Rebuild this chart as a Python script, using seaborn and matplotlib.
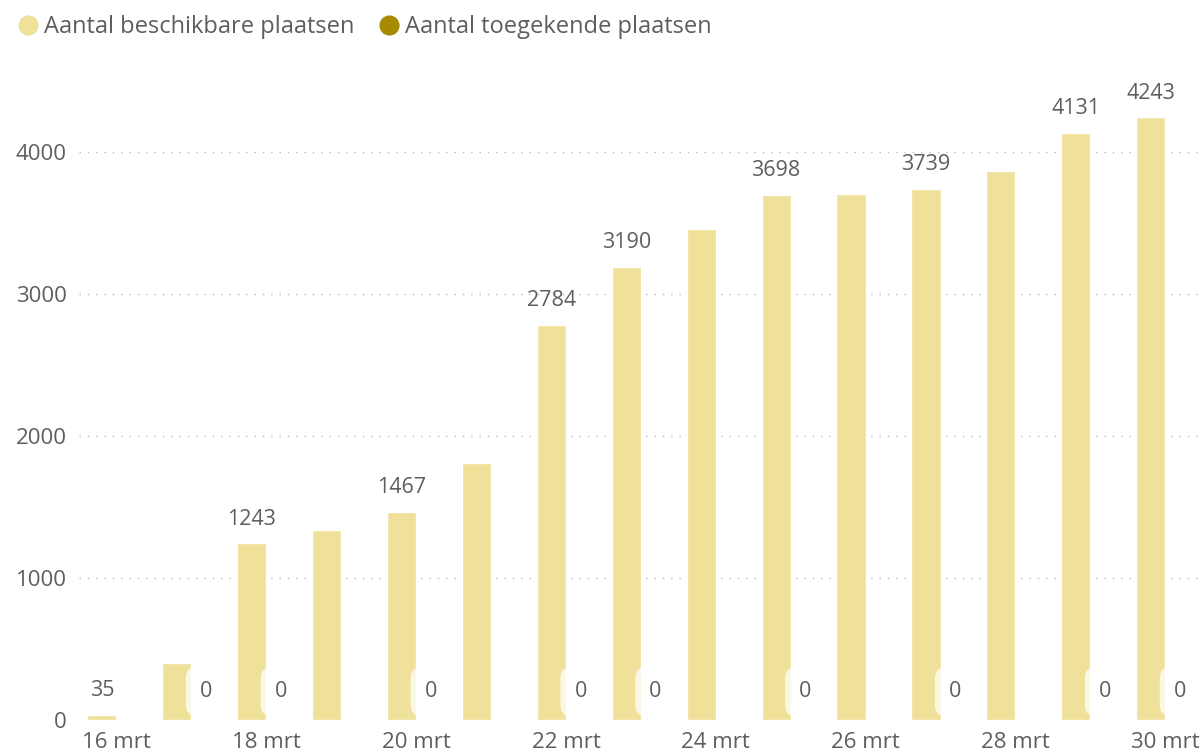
import matplotlib
matplotlib.use("Agg")
import matplotlib.pyplot as plt
from matplotlib.lines import Line2D
import pandas as pd
import seaborn as sns

# data
days = ["16 mrt", "17 mrt", "18 mrt", "19 mrt", "20 mrt", "21 mrt", "22 mrt", "23 mrt",
        "24 mrt", "25 mrt", "26 mrt", "27 mrt", "28 mrt", "29 mrt", "30 mrt"]
beschikbaar = [35, 400, 1243, 1338, 1467, 1810, 2784, 3190, 3458, 3698, 3705, 3739, 3866, 4131, 4243]
toegekend = [0, 0, 0, 0, 0, 0, 0, 0, 0, 0, 0, 0, 0, 0, 0]
# which labels the original shows (the others were hidden)
show_top = ["16 mrt", "18 mrt", "20 mrt", "22 mrt", "23 mrt", "25 mrt", "27 mrt", "29 mrt", "30 mrt"]
show_zero = ["17 mrt", "18 mrt", "20 mrt", "22 mrt", "23 mrt", "25 mrt", "27 mrt", "29 mrt", "30 mrt"]
tick_days = days[::2]

series1 = "Aantal beschikbare plaatsen"
series2 = "Aantal toegekende plaatsen"
light = "#EFE199"
dark = "#A68A00"
grey = "#605E5C"

df = pd.DataFrame({
    "dag": days * 2,
    "waarde": beschikbaar + toegekend,
    "reeks": [series1] * len(days) + [series2] * len(days),
})

sns.set_style("white")
plt.rcParams["font.family"] = ["Open Sans", "DejaVu Sans"]

fig = plt.figure(figsize=(12.04, 7.54), dpi=100)
ax = fig.add_axes([0.0656, 0.0451, 0.9334, 0.8475])

sns.barplot(data=df, x="dag", y="waarde", hue="reeks", order=days,
            palette=[light, dark], width=0.78, saturation=1, legend=False, ax=ax)

ax.set_ylim(0, 4500)
ax.set_xlim(-0.5, len(days) - 0.5)
ax.set_yticks([0, 1000, 2000, 3000, 4000])
ax.set_xticks([days.index(d) for d in tick_days])
ax.set_xticklabels(tick_days)
ax.tick_params(axis="both", length=0, labelsize=16, colors=grey)
ax.tick_params(axis="x", pad=9)
ax.tick_params(axis="y", pad=9)
ax.set_xlabel("")
ax.set_ylabel("")
for spine in ax.spines.values():
    spine.set_visible(False)
ax.yaxis.grid(True, linestyle=(0, (1, 5)), color="#BBBBBB", linewidth=1)
ax.set_axisbelow(True)

# bar labels
half = 0.78 / 4
for i, d in enumerate(days):
    if d in show_top:
        ax.annotate(str(beschikbaar[i]), (i - half, beschikbaar[i]), xytext=(0, 10),
                    textcoords="offset points", ha="center", va="bottom",
                    fontsize=15.5, color=grey)
    if d in show_zero:
        ax.text(i + half, 200, str(toegekend[i]), ha="center", va="center",
                fontsize=15.5, color=grey,
                bbox=dict(boxstyle="round,pad=0.65,rounding_size=0.5",
                          facecolor="white", edgecolor="none", alpha=0.75))

# legend on top left
handles = [Line2D([], [], marker="o", linestyle="", markersize=13.5, color=c) for c in [light, dark]]
fig.legend(handles, [series1, series2], loc="upper left", bbox_to_anchor=(-0.004, 1.008),
           ncol=2, frameon=False, handletextpad=0.15, columnspacing=1.0,
           fontsize=17, labelcolor=grey, handlelength=1.0)

plt.savefig("out.png", dpi=100)
plt.close()
